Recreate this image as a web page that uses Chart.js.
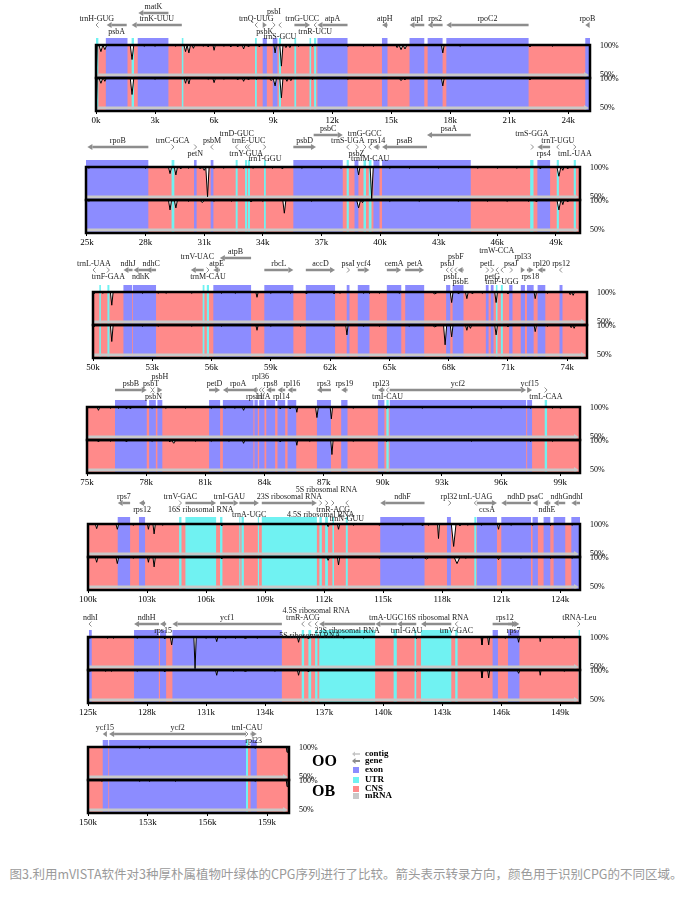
<!DOCTYPE html>
<html lang="zh">
<head>
<meta charset="UTF-8" />
<title>mVISTA 叶绿体基因组比较</title>
<script src="https://cdn.jsdelivr.net/npm/chart.js"></script>
<style>
  body { margin: 0; width: 692px; height: 899px; position: relative; overflow: hidden; background: #fff; }
  .panel { position: absolute; left: 0; width: 692px; height: 132px; }
  .tag { position: absolute; font: bold 16px "Liberation Serif", serif; color: #000; }
  .key { position: absolute; left: 352px; font: bold 9px "Liberation Serif", serif; line-height: 9px; color: #000; white-space: nowrap; }
  .key svg { vertical-align: middle; margin-right: 5px; }
  .caption { position: absolute; left: 0; top: 864px; width: 692px; text-align: center;
    font: 12.5px "Noto Sans CJK SC", sans-serif; color: #9a9a9a; }
</style>
</head>
<body>
<div class="panel" style="top:-1px"><canvas id="panel0"></canvas></div>
<div class="panel" style="top:121px"><canvas id="panel1"></canvas></div>
<div class="panel" style="top:246px"><canvas id="panel2"></canvas></div>
<div class="panel" style="top:361px"><canvas id="panel3"></canvas></div>
<div class="panel" style="top:478px"><canvas id="panel4"></canvas></div>
<div class="panel" style="top:591px"><canvas id="panel5"></canvas></div>
<div class="panel" style="top:701px"><canvas id="panel6"></canvas></div>

<div class="tag" style="left:312px;top:752px">OO</div>
<div class="tag" style="left:312px;top:782px">OB</div>
<div class="key" style="top:749px"><svg width="8" height="6"><path d="M0 3L3 0.5V5.5Z M3 2.2H8V3.8H3Z" fill="#c4c4c4"/></svg>contig</div>
<div class="key" style="top:756px"><svg width="8" height="6"><path d="M0 3L3.5 0V6Z M3 2H8V4H3Z" fill="#8d8d8d"/></svg>gene</div>
<div class="key" style="top:765px"><svg width="8" height="6"><rect x="1" y="0" width="6" height="6" fill="#8c8cff"/></svg>exon</div>
<div class="key" style="top:775px"><svg width="8" height="6"><rect x="1" y="0" width="6" height="6" fill="#70f2f2"/></svg>UTR</div>
<div class="key" style="top:784px"><svg width="8" height="6"><rect x="1" y="0" width="6" height="6" fill="#ff8a8a"/></svg>CNS</div>
<div class="key" style="top:791px"><svg width="8" height="6"><rect x="1" y="0" width="6" height="6" fill="#c8c8c8"/></svg>mRNA</div>

<div class="caption">图3.利用mVISTA软件对3种厚朴属植物叶绿体的CPG序列进行了比较。箭头表示转录方向，颜色用于识别CPG的不同区域。</div>

<script>
  // ---- data (kb) ----
  const panelStart = [0, 24.95, 50, 75, 100, 125, 150];
  const panelEnd = [25.1, 50.23, 75.0, 100.0, 125.0, 150.0, 160.1];

  const tickValues = [
    [0, 3, 6, 9, 12, 15, 18, 21, 24],
    [25, 28, 31, 34, 37, 40, 43, 46, 49],
    [50, 53, 56, 59, 62, 65, 68, 71, 74],
    [75, 78, 81, 84, 87, 90, 93, 96, 99],
    [100, 103, 106, 109, 112, 115, 118, 121, 124],
    [125, 128, 131, 134, 137, 140, 143, 146, 149],
    [150, 153, 156, 159],
  ];

  const exons = [
    [[0.5, 1.6], [2.12, 3.68], [8.47, 8.68], [8.98, 9.22], [11.25, 12.78], [14.53, 14.81], [15.93, 16.68], [16.85, 17.61], [17.8, 21.98], [24.86, 25.1]],
    [[24.95, 28.14], [30.48, 30.61], [31.33, 31.47], [35.56, 38.09], [38.69, 38.89], [39.66, 39.97], [40.1, 44.64], [48.05, 48.7]],
    [[51.54, 51.98], [52.02, 53.19], [56.09, 58.0], [58.67, 60.14], [60.77, 62.25], [62.84, 62.98], [63.4, 63.99], [64.87, 65.6], [65.8, 66.76], [67.87, 68.08], [68.2, 68.75], [69.88, 70.02], [70.13, 70.27], [71.06, 71.23], [71.65, 71.86], [71.96, 72.3], [72.5, 72.89], [73.61, 73.76]],
    [[76.42, 78.03], [78.15, 78.49], [78.57, 78.82], [81.19, 81.75], [81.89, 83.44], [83.49, 83.66], [83.73, 84.0], [84.09, 84.54], [84.66, 85.05], [85.17, 85.61], [86.66, 87.37], [87.89, 88.21], [89.75, 90.08], [90.35, 97.27], [97.32, 97.57]],
    [[101.51, 102.14], [102.59, 102.9], [114.85, 117.1], [118.24, 118.44], [119.76, 120.78], [121.0, 122.51], [122.59, 122.86], [123.15, 123.49], [123.66, 124.25], [124.56, 125.0]],
    [[125.05, 125.19], [127.34, 128.6], [128.66, 128.97], [129.29, 134.85], [145.56, 145.83], [146.34, 146.92]],
    [[150.74, 151.02], [151.06, 157.94], [158.17, 158.48]],
  ];

  const utrs = [
    [[0.0, 0.12], [1.81, 1.93], [4.36, 4.44], [8.08, 8.17], [9.29, 9.4], [10.08, 10.17], [10.85, 10.93], [11.08, 11.19]],
    [[29.33, 29.47], [32.61, 32.71], [33.09, 33.2], [33.24, 33.34], [34.06, 34.15], [38.29, 38.4], [39.15, 39.28], [39.42, 39.56], [47.68, 47.85], [49.04, 49.15], [49.91, 50.02]],
    [[50.32, 50.4], [50.73, 50.83], [55.55, 55.64], [55.76, 55.87], [70.39, 70.47], [70.64, 70.74]],
    [[90.18, 90.3], [98.21, 98.33]],
    [[104.63, 104.75], [104.95, 106.51], [106.71, 106.83], [107.69, 107.74], [107.8, 107.92], [108.63, 108.69], [108.83, 111.63], [111.76, 111.88], [112.05, 112.19], [112.42, 112.5], [113.1, 113.2], [119.63, 119.73]],
    [[135.86, 135.98], [136.2, 136.34], [136.54, 136.66], [136.75, 139.59], [140.53, 140.69], [141.59, 141.68], [141.92, 143.46], [143.66, 143.78], [149.93, 150.0]],
    [[157.94, 158.04]],
  ];

  // [name, start, end, strand, label slot]
  const genes = [
    [['trnH-GUG', 0.0, 0.08, -1, 'a1'], ['psbA', 0.54, 1.56, -1, 'b1'], ['matK', 2.15, 3.68, -1, 'h1'],
     ['trnK-UUU', 1.81, 4.36, -1, 'a1'], ['trnQ-UUG', 8.08, 8.2, -1, 'a1'], ['psbK', 8.47, 8.68, 1, 'b1'],
     ['psbI', 8.98, 9.1, 1, 'a2'], ['trnS-GCU', 9.29, 9.4, -1, 'b2'], ['trnG-UCC', 10.08, 10.88, 1, 'a1'],
     ['trnR-UCU', 11.08, 11.19, -1, 'b1'], ['atpA', 11.25, 12.78, -1, 'a1'], ['atpH', 14.53, 14.81, -1, 'a1'],
     ['atpI', 15.93, 16.68, -1, 'a1'], ['rps2', 16.85, 17.61, -1, 'a1'], ['rpoC2', 17.8, 21.98, -1, 'a1'],
     ['rpoB', 24.86, 25.08, -1, 'a1']],
    [['rpoB', 25.02, 28.14, -1, 'a1'], ['trnC-GCA', 29.33, 29.45, 1, 'a1'], ['petN', 30.48, 30.61, 1, 'b1'],
     ['psbM', 31.33, 31.47, -1, 'a1'], ['trnD-GUC', 32.6, 32.72, -1, 'a2'], ['trnY-GUA', 33.09, 33.2, -1, 'b1'],
     ['trnE-UUC', 33.22, 33.34, -1, 'a1'], ['trnT-GGU', 34.06, 34.15, 1, 'b2'], ['psbD', 35.56, 36.72, 1, 'a1'],
     ['psbC', 36.6, 38.09, 1, 'h1'], ['trnS-UGA', 38.29, 38.4, -1, 'a1'], ['psbZ', 38.69, 38.89, 1, 'b1'],
     ['trnG-GCC', 39.15, 39.28, 1, 'a2'], ['trnfM-CAU', 39.42, 39.56, -1, 'b2'], ['rps14', 39.66, 39.97, -1, 'a1'],
     ['psaB', 40.1, 42.4, -1, 'a1'], ['psaA', 42.4, 44.64, -1, 'h1'], ['trnS-GGA', 47.68, 47.85, 1, 'a2'],
     ['rps4', 48.05, 48.7, -1, 'b1'], ['trnT-UGU', 49.04, 49.15, -1, 'a1'], ['trnL-UAA', 49.91, 50.02, 1, 'b1']],
    [['trnL-UAA', 50.0, 50.1, -1, 'a1'], ['trnF-GAA', 50.73, 50.83, 1, 'b1'], ['ndhJ', 51.54, 52.0, -1, 'a1'],
     ['ndhK', 52.05, 52.8, -1, 'b1'], ['ndhC', 52.7, 53.19, -1, 'a1'], ['trnV-UAC', 54.95, 55.6, -1, 'a2'],
     ['trnM-CAU', 55.76, 55.87, 1, 'b1'], ['atpE', 56.09, 56.42, -1, 'a1'], ['atpB', 56.42, 58.0, -1, 'h1'],
     ['rbcL', 58.67, 60.14, 1, 'a1'], ['accD', 60.77, 62.25, 1, 'a1'], ['psaI', 62.84, 62.98, 1, 'a1'],
     ['ycf4', 63.4, 63.99, 1, 'a1'], ['cemA', 64.87, 65.6, 1, 'a1'], ['petA', 65.8, 66.76, 1, 'a1'],
     ['psbJ', 67.87, 68.0, -1, 'a1'], ['psbL', 68.08, 68.2, -1, 'b1'], ['psbF', 68.3, 68.42, -1, 'a2'],
     ['psbE', 68.45, 68.75, -1, 'b2'], ['petL', 69.88, 70.02, 1, 'a1'], ['petG', 70.13, 70.27, 1, 'b1'],
     ['trnW-CCA', 70.39, 70.47, -1, 'a3'], ['trnP-UGG', 70.64, 70.74, -1, 'b2'], ['psaJ', 71.06, 71.23, 1, 'a1'],
     ['rpl33', 71.65, 71.86, 1, 'a2'], ['rps18', 71.96, 72.3, 1, 'b1'], ['rpl20', 72.5, 72.89, -1, 'a1'],
     ['rps12', 73.61, 73.76, -1, 'a1']],
    [['psbB', 76.42, 78.03, 1, 'a1'], ['psbT', 78.15, 78.35, 1, 'a1'], ['psbN', 78.3, 78.45, -1, 'b1'],
     ['psbH', 78.57, 78.82, 1, 'a2'], ['petD', 81.19, 81.75, 1, 'a1'], ['rpoA', 81.89, 83.44, -1, 'a1'],
     ['rps11', 83.35, 83.66, -1, 'b1'], ['rpl36', 83.73, 83.86, -1, 'a2'], ['infA', 83.87, 84.0, -1, 'b1'],
     ['rps8', 84.09, 84.54, -1, 'a1'], ['rpl14', 84.66, 85.05, -1, 'b1'], ['rpl16', 85.17, 85.61, -1, 'a1'],
     ['rps3', 86.66, 87.37, -1, 'a1'], ['rps19', 87.89, 88.21, -1, 'a1'], ['rpl23', 89.75, 90.08, -1, 'a1'],
     ['trnI-CAU', 90.18, 90.3, -1, 'b1'], ['ycf2', 90.35, 97.27, 1, 'a1'], ['ycf15', 97.32, 97.57, 1, 'a1'],
     ['trnL-CAA', 98.21, 98.33, 1, 'b1']],
    [['rps7', 101.51, 102.14, -1, 'a1'], ['rps12', 102.59, 102.9, -1, 'b1'], ['trnV-GAC', 104.63, 104.75, 1, 'a1'],
     ['16S ribosomal RNA', 104.95, 106.51, 1, 'b1'], ['trnI-GAU', 106.71, 107.65, 1, 'a1'],
     ['trnA-UGC', 107.69, 108.69, 1, 'b2'], ['23S ribosomal RNA', 108.83, 111.63, 1, 'a1'],
     ['4.5S ribosomal RNA', 111.76, 111.88, 1, 'b2'], ['5S ribosomal RNA', 112.05, 112.19, 1, 'a2'],
     ['trnR-ACG', 112.42, 112.5, 1, 'b1'], ['trnN-GUU', 113.1, 113.2, -1, 'b3'], ['ndhF', 114.85, 117.1, -1, 'a1'],
     ['rpl32', 118.24, 118.44, 1, 'a1'], ['trnL-UAG', 119.63, 119.73, -1, 'a1'], ['ccsA', 119.76, 120.78, 1, 'b1'],
     ['ndhD', 121.0, 122.51, -1, 'a1'], ['psaC', 122.59, 122.86, -1, 'a1'], ['ndhE', 123.15, 123.49, -1, 'b1'],
     ['ndhG', 123.66, 124.25, -1, 'a1'], ['ndhI', 124.56, 125.0, -1, 'a1']],
    [['ndhI', 125.05, 125.19, -1, 'a1'], ['ndhH', 127.34, 128.61, -1, 'a1'], ['rps15', 128.66, 128.97, -1, 'b1'],
     ['ycf1', 129.29, 134.85, -1, 'a1'], ['trnR-ACG', 135.86, 135.98, -1, 'a1'], ['5S ribosomal RNA', 136.2, 136.34, -1, 'b2'],
     ['4.5S ribosomal RNA', 136.54, 136.66, -1, 'a2'], ['23S ribosomal RNA', 136.75, 139.59, -1, 'b1'],
     ['trnA-UGC', 139.6, 140.69, -1, 'a1'], ['trnI-GAU', 140.7, 141.68, -1, 'b1'],
     ['16S ribosomal RNA', 141.92, 143.46, -1, 'a1'], ['trnV-GAC', 143.66, 143.78, -1, 'b1'],
     ['rps12', 145.56, 146.8, 1, 'a1'], ['rps7', 146.34, 146.92, 1, 'b1'], ['tRNA-Leu', 149.93, 150.0, 1, 'a1']],
    [['ycf15', 150.74, 150.95, -1, 'a1'], ['ycf2', 151.06, 157.94, -1, 'a1'], ['trnI-CAU', 157.94, 158.04, 1, 'a1'],
     ['rpl23', 158.17, 158.48, 1, 'b1']],
  ];

  // identity dips per track: [position kb, identity %, half width kb]
  const dipsOO = [
    [[0.03, 55, 0.03], [0.25, 90, 0.1], [0.45, 93, 0.1], [1.83, 78, 0.09], [2.45, 98], [3.0, 98], [4.05, 98],
     [4.55, 90, 0.08], [4.72, 88, 0.08], [4.95, 95], [5.45, 98], [5.7, 97], [6.0, 92, 0.06], [6.5, 98], [6.85, 97],
     [7.2, 97], [7.5, 94], [7.75, 97], [8.3, 97], [9.1, 88, 0.06], [9.42, 68, 0.08], [9.65, 96], [9.85, 96],
     [10.3, 98], [11.0, 98], [12.8, 98], [13.6, 98], [14.1, 98], [15.3, 96], [15.5, 93, 0.1], [15.7, 94, 0.1],
     [17.62, 88], [18.5, 98], [22.05, 97], [23.2, 98]],
    [[25.1, 98], [28.0, 98], [29.25, 90, 0.08], [29.55, 88, 0.08], [29.8, 97], [30.2, 98], [30.8, 97, 0.1],
     [31.0, 95, 0.08], [31.17, 55, 0.08], [31.5, 98], [32.0, 98], [33.0, 98], [33.5, 98], [34.5, 98], [35.0, 97],
     [36.0, 98], [37.0, 98], [38.0, 98], [38.9, 88], [39.57, 52, 0.08], [40.5, 98], [41.5, 98], [43.0, 98],
     [45.0, 98], [46.0, 98], [47.0, 98], [48.2, 97], [49.15, 86, 0.1], [49.35, 95], [49.6, 97]],
    [[50.05, 97], [50.5, 98], [50.95, 80], [52.5, 98], [53.3, 98], [53.7, 98], [55.0, 98], [56.5, 98], [57.2, 98],
     [58.3, 92, 0.06], [59.0, 98], [60.0, 98], [60.8, 97], [62.2, 97], [62.5, 98], [63.7, 98], [64.0, 98],
     [64.5, 98], [65.5, 98], [67.3, 97, 0.15], [68.15, 84], [68.5, 97], [68.92, 90], [69.2, 97], [69.7, 98],
     [70.4, 84], [71.0, 97], [72.38, 90, 0.06], [73.0, 98], [74.15, 96], [74.3, 95]],
    [[75.58, 95], [76.2, 98], [76.6, 98], [77.0, 97], [77.2, 97], [78.3, 98], [79.0, 98], [80.0, 98], [81.3, 98],
     [82.0, 98], [82.5, 98], [82.94, 95], [84.8, 97], [85.3, 97], [85.64, 92, 0.05], [86.66, 84], [87.39, 82, 0.06],
     [88.5, 98], [90.2, 98], [92.0, 98], [94.5, 98], [96.0, 98], [97.5, 98], [98.6, 98], [99.0, 98]],
    [[100.44, 93], [101.49, 92], [102.3, 98], [103.07, 92, 0.05], [103.36, 85, 0.06], [103.8, 98], [106.8, 97],
     [112.2, 96], [112.73, 92, 0.06], [113.5, 98], [114.8, 98], [116.0, 98], [117.0, 97], [117.3, 98],
     [117.81, 78, 0.05], [118.58, 66, 0.12], [118.9, 97], [119.3, 98], [120.0, 98], [120.86, 92, 0.06],
     [121.5, 98], [122.6, 98], [123.5, 98], [124.6, 98]],
    [[125.1, 98], [126.0, 98], [126.3, 98], [127.5, 98], [128.9, 97], [129.25, 88, 0.06], [130.44, 52, 0.06],
     [131.0, 98], [131.54, 93, 0.06], [132.0, 98], [132.5, 98], [133.0, 97, 0.1], [133.6, 98], [135.7, 92, 0.06],
     [136.2, 97], [138.0, 98], [139.0, 98], [141.7, 98], [145.02, 88, 0.05], [145.36, 88, 0.05], [146.2, 98],
     [146.88, 92, 0.05], [147.98, 93, 0.04], [148.6, 98], [149.2, 98]],
    [[152.6, 98], [153.1, 98], [158.4, 98], [160.0, 92, 0.04]],
  ];

  const dipsOB = [
    [[0.03, 55, 0.03], [0.25, 92, 0.1], [0.45, 95, 0.08], [1.83, 75, 0.09], [3.0, 98], [4.55, 92], [4.72, 91],
     [5.7, 98], [6.0, 93], [6.5, 98], [7.2, 97], [7.5, 95], [7.75, 97], [8.15, 98], [8.9, 96, 0.1], [9.1, 88],
     [9.42, 70, 0.08], [9.7, 95], [9.9, 96], [11.0, 98], [12.8, 98], [15.5, 96, 0.1], [15.7, 97], [17.62, 88],
     [22.05, 97]],
    [[25.1, 98], [29.25, 85, 0.08], [29.55, 88, 0.08], [30.2, 98], [30.9, 96, 0.12], [31.5, 98], [32.4, 98],
     [33.4, 97, 0.1], [34.0, 98], [35.1, 80, 0.08], [36.5, 98], [38.9, 88, 0.1], [39.1, 96], [40.5, 98], [42.0, 98],
     [44.0, 98], [45.5, 98], [46.5, 98], [47.6, 98], [48.0, 97], [49.15, 85, 0.1], [49.35, 93], [49.6, 97]],
    [[50.05, 97], [50.95, 75], [52.5, 98], [53.3, 98], [55.0, 98], [56.5, 98], [58.3, 92, 0.06], [59.0, 98],
     [60.5, 98], [62.2, 98], [62.85, 85, 0.06], [63.7, 98], [64.5, 98], [66.0, 98], [67.3, 97, 0.15],
     [67.82, 70, 0.08], [68.15, 82], [68.92, 92], [69.1, 95], [70.4, 85], [71.0, 97], [72.38, 90, 0.06],
     [73.0, 98], [74.2, 96], [74.35, 95]],
    [[75.58, 97], [76.2, 98], [77.0, 97], [78.3, 98], [79.2, 97], [79.4, 95, 0.1], [80.5, 98], [81.3, 98],
     [82.2, 98], [82.94, 95], [84.8, 97], [85.64, 92, 0.05], [86.3, 98], [87.42, 78, 0.06], [88.5, 98], [90.2, 98],
     [94.5, 98], [97.5, 98], [98.6, 98]],
    [[100.44, 92], [101.49, 90], [102.3, 98], [103.07, 92, 0.05], [103.36, 85, 0.06], [106.8, 97], [112.2, 95],
     [112.73, 88, 0.06], [114.8, 98], [116.5, 98], [117.2, 97, 0.15], [118.75, 90, 0.15], [119.2, 98],
     [120.86, 96], [122.0, 98], [123.5, 98], [124.6, 98]],
    [[125.1, 98], [125.9, 98], [126.2, 98], [127.5, 98], [128.9, 97], [131.54, 92, 0.06], [132.4, 98],
     [133.0, 97, 0.1], [134.5, 98], [135.7, 92, 0.06], [136.2, 97], [141.7, 98], [145.02, 88, 0.05],
     [145.36, 88, 0.05], [146.88, 95], [147.98, 92, 0.04], [149.2, 98]],
    [[150.7, 98], [152.6, 98], [153.1, 98], [154.4, 98], [158.4, 98], [160.0, 90, 0.04]],
  ];

  // right-hand track labels
  const trackLabels = ['50%', '100%'];

  // ---- layout (pixels) ----
  const boxLeft = [96, 86, 93, 87, 88, 88, 88];
  const boxRight = [590, 580, 587, 580, 580, 580, 289];
  const arrowRow = [-20, -20, -22, -17, -21, -13, -13];
  const labelShift = { a1: -6.5, a2: -13, a3: -19, b1: 6.5, b2: 11.5, b3: 16, h1: -6.5 };
  const colours = { exon: '#8c8cff', utr: '#70f2f2', cns: '#ff8a8a', mrna: '#c8c8c8', gene: '#8d8d8d' };
  const serif = "'Liberation Serif', serif";

  function curve(dips, i) {
    const pts = [{ x: panelStart[i], y: 100 }];
    dips.forEach(([p, d, w = 0.07]) => {
      pts.push({ x: p - w, y: 100 }, { x: p, y: d }, { x: p + w, y: 100 });
    });
    pts.push({ x: panelEnd[i], y: 100 });
    return pts;
  }

  function drawArrow(ctx, x1, x2, y, dir) {
    const len = x2 - x1;
    const tip = dir > 0 ? x2 : x1;
    ctx.fillStyle = ctx.strokeStyle = colours.gene;
    if (len < 4) {
      ctx.lineWidth = 1;
      ctx.beginPath();
      ctx.moveTo(tip - dir * 2.5, y - 2.5);
      ctx.lineTo(tip, y);
      ctx.lineTo(tip - dir * 2.5, y + 2.5);
      ctx.stroke();
      return;
    }
    const head = Math.min(5, len);
    ctx.lineWidth = 2.5;
    ctx.beginPath();
    ctx.moveTo(dir > 0 ? x1 : x1 + head, y);
    ctx.lineTo(dir > 0 ? x2 - head : x2, y);
    ctx.stroke();
    ctx.beginPath();
    ctx.moveTo(tip, y);
    ctx.lineTo(tip - dir * head, y - 3);
    ctx.lineTo(tip - dir * head, y + 3);
    ctx.closePath();
    ctx.fill();
  }

  function mvista(i) {
    return {
      id: 'mvista' + i,
      beforeDatasetsDraw(chart) {
        const { ctx, chartArea: a, scales } = chart;
        const px = v => Math.min(a.right, Math.max(a.left, scales.x.getPixelForValue(v)));
        const regions = (list, colour, top, bot) => {
          ctx.fillStyle = colour;
          list.forEach(([s, e]) => ctx.fillRect(px(s), top, Math.max(1, px(e) - px(s)), bot - top));
        };
        ctx.save();
        ['yOO', 'yOB'].forEach(id => {
          const top = scales[id].getPixelForValue(100);
          const bot = scales[id].getPixelForValue(50);
          ctx.fillStyle = colours.cns;
          ctx.fillRect(a.left, top, a.width, bot - top);
          regions(exons[i], colours.exon, top, bot);
          regions(utrs[i], colours.utr, top, bot);
          // mRNA / contig bar along the 50% line
          ctx.fillStyle = ctx.strokeStyle = colours.mrna;
          ctx.lineWidth = 3;
          ctx.beginPath();
          ctx.moveTo(a.left, bot - 3);
          ctx.lineTo(a.right - 5, bot - 3);
          ctx.stroke();
          ctx.beginPath();
          ctx.moveTo(a.right - 1, bot - 3);
          ctx.lineTo(a.right - 6, bot - 6);
          ctx.lineTo(a.right - 6, bot);
          ctx.closePath();
          ctx.fill();
        });
        regions(exons[i], colours.exon, a.top - 7, a.top);
        regions(utrs[i], colours.utr, a.top - 7, a.top);
        ctx.restore();
      },
      afterDatasetsDraw(chart) {
        const { ctx, chartArea: a, scales } = chart;
        ctx.save();
        ctx.strokeStyle = '#000';
        ctx.lineWidth = 2.5;
        ['yOO', 'yOB'].forEach(id => {
          const top = scales[id].getPixelForValue(100);
          const bot = scales[id].getPixelForValue(50);
          ctx.strokeRect(a.left, top, a.width, bot - top);
        });
        ctx.restore();
      },
      afterDraw(chart) {
        const { ctx, chartArea: a, scales } = chart;
        const px = v => scales.x.getPixelForValue(v);
        const row = a.top + arrowRow[i];
        ctx.save();
        ctx.font = '8px ' + serif;
        ctx.textAlign = 'center';
        ctx.textBaseline = 'middle';
        genes[i].forEach(([name, s, e, dir, slot]) => {
          const y = slot[0] === 'h' ? row - 12 : row;
          drawArrow(ctx, px(s), px(e), y, dir);
          ctx.fillStyle = '#1a1a1a';
          ctx.fillText(name, px((s + e) / 2), y + labelShift[slot]);
        });
        ctx.restore();
      },
    };
  }

  function trackAxis(weight) {
    return {
      type: 'linear', position: 'right', stack: 'tracks', stackWeight: 1, weight,
      min: 50, max: 100,
      grid: { display: false }, border: { display: false },
      // labels sit just inside the track edges, as in mVISTA output
      afterBuildTicks: s => { s.ticks = [{ value: 54 }, { value: 98 }]; },
      afterFit: s => { s.width = 30; s.paddingTop = 0; s.paddingBottom = 0; },
      ticks: { padding: 2, color: '#000', font: { family: serif, size: 8 }, callback: v => trackLabels[v > 75 ? 1 : 0] },
    };
  }

  const lineStyle = { borderColor: '#000', borderWidth: 1, backgroundColor: '#fff', fill: 'end', pointRadius: 0, tension: 0 };

  for (let i = 0; i < 7; i++) {
    new Chart(document.getElementById('panel' + i), {
      type: 'line',
      data: {
        datasets: [
          { label: 'OO', data: curve(dipsOO[i], i), yAxisID: 'yOO', ...lineStyle },
          { label: 'OB', data: curve(dipsOB[i], i), yAxisID: 'yOB', ...lineStyle },
        ],
      },
      options: {
        responsive: true,
        maintainAspectRatio: false,
        animation: false,
        layout: { padding: { left: boxLeft[i], right: 692 - boxRight[i] - 30, top: 46, bottom: 0 } },
        plugins: { legend: { display: false }, tooltip: { enabled: false } },
        scales: {
          x: {
            type: 'linear', position: 'bottom', min: panelStart[i], max: panelEnd[i],
            afterBuildTicks: s => { s.ticks = tickValues[i].map(v => ({ value: v })); },
            afterFit: s => { s.height = 20; s.paddingLeft = 0; s.paddingRight = 0; },
            grid: { drawOnChartArea: false, tickLength: 3, color: '#000' },
            border: { display: false },
            ticks: { autoSkip: false, maxRotation: 0, padding: 1, color: '#000', font: { family: serif, size: 9 }, callback: v => v + 'k' },
          },
          yOO: trackAxis(1),
          yOB: trackAxis(2),
        },
      },
      plugins: [mvista(i)],
    });
  }
</script>
</body>
</html>
